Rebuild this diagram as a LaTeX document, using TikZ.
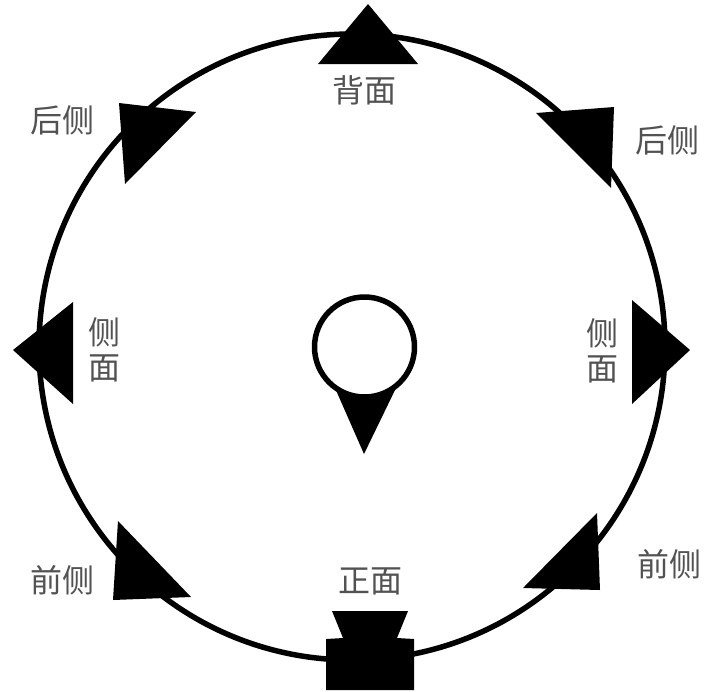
\documentclass[tikz,border=0pt]{standalone}
\usepackage{fontspec}
\newfontfamily\cjk{Noto Sans CJK SC}
\tikzset{
  mark shape/.style={fill=black,draw=none},
  ring/.style={draw=black,line width=5.5pt,fill=none},
  lab/.style={font=\cjk\fontsize{32}{35}\selectfont,text=black!68,inner sep=0pt,align=center}
}
\begin{document}
\begin{tikzpicture}[x=1pt,y=-1pt]
\useasboundingbox (0,0) rectangle (708,691);
\fill[white] (0,0) rectangle (708,691);
\draw[ring] (352,347) circle[radius=313];
\draw[ring] (364.5,347) circle[radius=50];
\fill[mark shape] (335,388) .. controls (352,398) and (378,398) .. (396,388) -- (364,454) -- cycle;
\fill[mark shape] (368,4) -- (418,64) -- (318,64) -- cycle;
\fill[mark shape] (119,103) -- (196,112) -- (125,184) -- cycle;
\fill[mark shape] (536,113) -- (614,107) -- (611,188) -- cycle;
\fill[mark shape] (13,350) -- (73,302) -- (73,404) -- cycle;
\fill[mark shape] (690,350) -- (632,300) -- (632,404) -- cycle;
\fill[mark shape] (118,521) -- (191,597) -- (113,600) -- cycle;
\fill[mark shape] (597,513) -- (600,590) -- (523,588) -- cycle;
\fill[mark shape] (332,611) -- (408,611) -- (397,638) -- (414,639) -- (414,690) -- (326,690) -- (326,639) -- (343,638) -- cycle;
\node[lab] (back) at (364,90) {背面};
\node[lab] (ul) at (62,120) {后侧};
\node[lab] (ur) at (667,140) {后侧};
\node[lab] (l) at (104,350) {侧\\面};
\node[lab] (r) at (602,351) {侧\\面};
\node[lab] (ll) at (62,580) {前侧};
\node[lab] (lr) at (669,564) {前侧};
\node[lab] (front) at (370,581) {正面};
\end{tikzpicture}
\end{document}
